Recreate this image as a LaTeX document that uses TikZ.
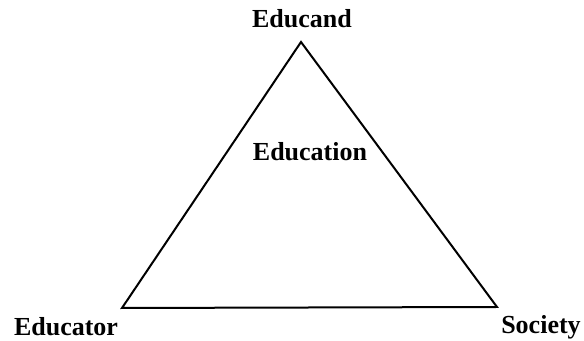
\documentclass[tikz,border=0pt]{standalone}
\usepackage{fontspec}
\setmainfont{Liberation Serif}
\usepackage{tikz}
\usetikzlibrary{positioning}

\begin{document}
\begin{tikzpicture}[x=0.5pt, y=-0.5pt, every node/.style={font=\fontsize{13}{15}\selectfont\bfseries, inner sep=0pt}, side/.style={line width=1pt, line join=miter}]
\useasboundingbox (0,0) rectangle (584,341);
\coordinate (top) at (301,42);
\coordinate (left) at (122,308);
\coordinate (right) at (497,307);
\node (educand) at (302,19) {Educand};
\node (education) at (310,152) {Education};
\node (educator) at (66,327) {Educator};
\node (society) at (541,327) {Society};
\draw[side] (top)--(left)--(right)--cycle;
\end{tikzpicture}
\end{document}
